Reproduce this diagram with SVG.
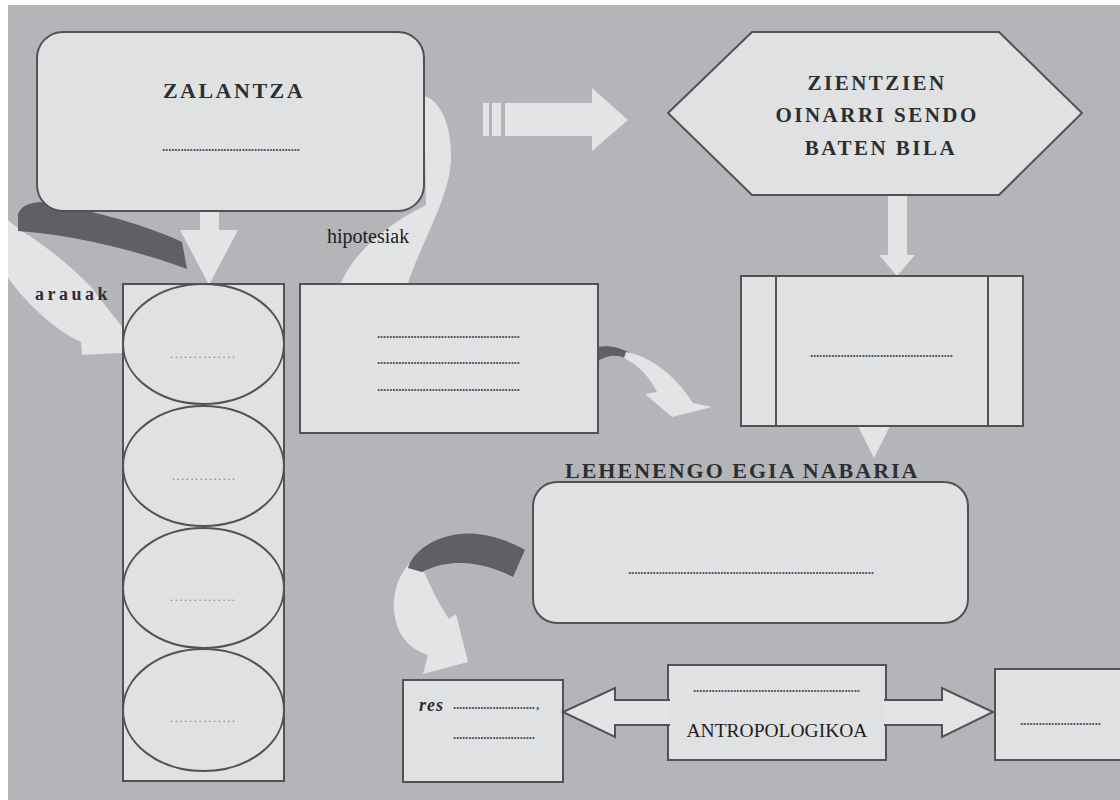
<svg xmlns="http://www.w3.org/2000/svg" width="1120" height="800" viewBox="0 0 1120 800">
<style>
.bg{fill:#b4b5b9}
.box{fill:#e0e1e3;stroke:#525255;stroke-width:2}
.arr{fill:#e3e4e6}
.arrs{fill:#e3e4e6;stroke:#525255;stroke-width:2;stroke-linejoin:miter}
.dark{fill:#606064}
.title{font-family:"Liberation Serif",serif;font-weight:bold;fill:#2e2e31}
.plain{font-family:"Liberation Serif",serif;fill:#1e1e20}
.dots{font-family:"Liberation Serif",serif;font-size:13px;font-weight:bold;fill:#4e4e52}
.ldots{font-family:"Liberation Serif",serif;font-size:12px;fill:#808085}
</style>
<rect x="0" y="0" width="1120" height="800" fill="#ffffff"/>
<rect class="bg" x="8" y="5" width="1112" height="795"/>

<g id="connectors">
  <!-- hipotesiak ribbon -->
  <path class="arr" d="M424 96 C440 100 452 125 451 160 C449 200 420 245 407 286 L340 286 C350 258 380 228 426 205 Z"/>
  <!-- arauak ribbon -->
  <path class="arr" d="M8 220 L20 230 C45 245 70 265 92 288 L97 295 L142 352 L82 355 L81 342 C55 330 28 305 8 278 Z"/>
  <path class="dark" d="M18 231 L18 214 Q22 203 40 202 C80 208 140 222 182 242 L187 269 C150 255 80 235 18 231 Z"/>
  <!-- down arrow ZALANTZA -> column -->
  <path class="arr" d="M200 211 L219 211 L219 230 L238 230 L209 285 L180 230 L200 230 Z"/>
  <!-- striped right arrow -->
  <rect class="arr" x="483" y="103" width="6" height="33"/>
  <rect class="arr" x="492" y="103" width="9" height="33"/>
  <path class="arr" d="M505 103 L592 103 L592 88 L628 120 L592 151 L592 136 L505 136 Z"/>
  <!-- hexagon -> rect3 -->
  <path class="arr" d="M888 195 L907 195 L907 255 L915 255 L897 276 L879 255 L888 255 Z"/>
  <!-- rect3 -> LEHENENGO -->
  <path class="arr" d="M858 426 L890 426 L874 458 Z"/>
  <!-- mid curved arrow -->
  <path class="dark" d="M598 347 C610 345 620 348 630 353 L625 358 C615 354 606 356 598 361 Z"/>
  <path class="arr" d="M626 352 C650 356 675 375 693 403 L712 407 L672 417 L645 394 L657 392 C650 378 640 366 624 358 Z"/>
  <!-- bottom-left curved arrow -->
  <path class="arr" d="M410 563 C393 580 388 612 402 636 C410 647 418 652 428 655 L423 674 L468 662 L456 614 L449 619 C440 606 432 590 424 572 Z"/>
  <path class="dark" d="M408 568 C415 545 450 528 485 535 C500 538 515 544 525 550 L513 577 C490 565 455 555 422 572 Z"/>
</g>

<g id="zalantza">
  <rect class="box" x="37" y="32" width="387" height="179" rx="26"/>
  <text class="title" x="234" y="98" font-size="22" letter-spacing="2.5" text-anchor="middle">ZALANTZA</text>
  <text class="dots" x="162" y="151" textLength="138" lengthAdjust="spacing">.............................................</text>
</g>

<g id="zientzien">
  <polygon class="box" points="668,113 752,32 999,32 1082,113 999,195 752,195"/>
  <text class="title" font-size="21" letter-spacing="2.5" text-anchor="middle">
    <tspan x="881" y="90">ZIENTZIEN</tspan>
    <tspan x="881" y="122">OINARRI SENDO</tspan>
    <tspan x="881" y="155">BATEN BILA</tspan>
  </text>
</g>

<g id="hipotesiak-label">
  <text class="plain" x="327" y="243" font-size="20">hipotesiak</text>
</g>
<g id="arauak-label">
  <text class="title" x="35" y="300" font-size="18" letter-spacing="3.5">arauak</text>
</g>

<g id="column">
  <rect class="box" x="123" y="284" width="161" height="497"/>
  <ellipse class="box" cx="203.5" cy="344" rx="80.5" ry="60"/>
  <ellipse class="box" cx="203.5" cy="466" rx="80.5" ry="60"/>
  <ellipse class="box" cx="203.5" cy="588" rx="80.5" ry="60"/>
  <ellipse class="box" cx="203.5" cy="710" rx="80.5" ry="61"/>
  <text class="ldots" x="170" y="358" textLength="65" lengthAdjust="spacing">..............</text>
  <text class="ldots" x="172" y="480" textLength="63" lengthAdjust="spacing">..............</text>
  <text class="ldots" x="170" y="601" textLength="65" lengthAdjust="spacing">..............</text>
  <text class="ldots" x="170" y="722" textLength="65" lengthAdjust="spacing">..............</text>
</g>

<g id="hipotesiak-box">
  <rect class="box" x="300" y="284" width="298" height="149"/>
  <text class="dots" x="377" y="338" textLength="143" lengthAdjust="spacing">...............................................</text>
  <text class="dots" x="377" y="364" textLength="143" lengthAdjust="spacing">...............................................</text>
  <text class="dots" x="377" y="391" textLength="143" lengthAdjust="spacing">...............................................</text>
</g>

<g id="rect3">
  <rect class="box" x="741" y="276" width="282" height="150"/>
  <line x1="776" y1="276" x2="776" y2="426" stroke="#525255" stroke-width="2"/>
  <line x1="988" y1="276" x2="988" y2="426" stroke="#525255" stroke-width="2"/>
  <text class="dots" x="810" y="357" textLength="143" lengthAdjust="spacing">...............................................</text>
</g>

<g id="lehenengo">
  <text class="title" x="565" y="478" font-size="22" letter-spacing="2">LEHENENGO EGIA NABARIA</text>
  <rect class="box" x="533" y="482" width="435" height="141" rx="24"/>
  <text class="dots" x="628" y="574" textLength="246" lengthAdjust="spacing">................................................................................</text>
</g>

<g id="res">
  <rect class="box" x="403" y="680" width="160" height="102"/>
  <text class="title" x="419" y="711" font-size="18" font-style="italic" letter-spacing="1">res</text>
  <text class="dots" x="453" y="709" textLength="82" lengthAdjust="spacing">...........................</text>
  <text class="dots" x="536" y="709">,</text>
  <text class="dots" x="453" y="739" textLength="82" lengthAdjust="spacing">...........................</text>
</g>

<g id="antropologikoa">
  <rect class="box" x="668" y="665" width="218" height="95"/>
  <text class="dots" x="693" y="692" textLength="167" lengthAdjust="spacing">......................................................</text>
  <text class="plain" x="777" y="737" font-size="19.5" text-anchor="middle">ANTROPOLOGIKOA</text>
</g>

<g id="right-box">
  <rect class="box" x="995" y="669" width="135" height="91"/>
  <text class="dots" x="1020" y="725" textLength="81" lengthAdjust="spacing">..........................</text>
</g>

<g id="double-arrow">
  <path class="arrs" d="M670 700 L615 700 L615 688 L563 712 L615 737 L615 725 L670 725"/>
  <path class="arrs" d="M884 700 L942 700 L942 688 L993 712 L942 737 L942 725 L884 725"/>
</g>
</svg>
